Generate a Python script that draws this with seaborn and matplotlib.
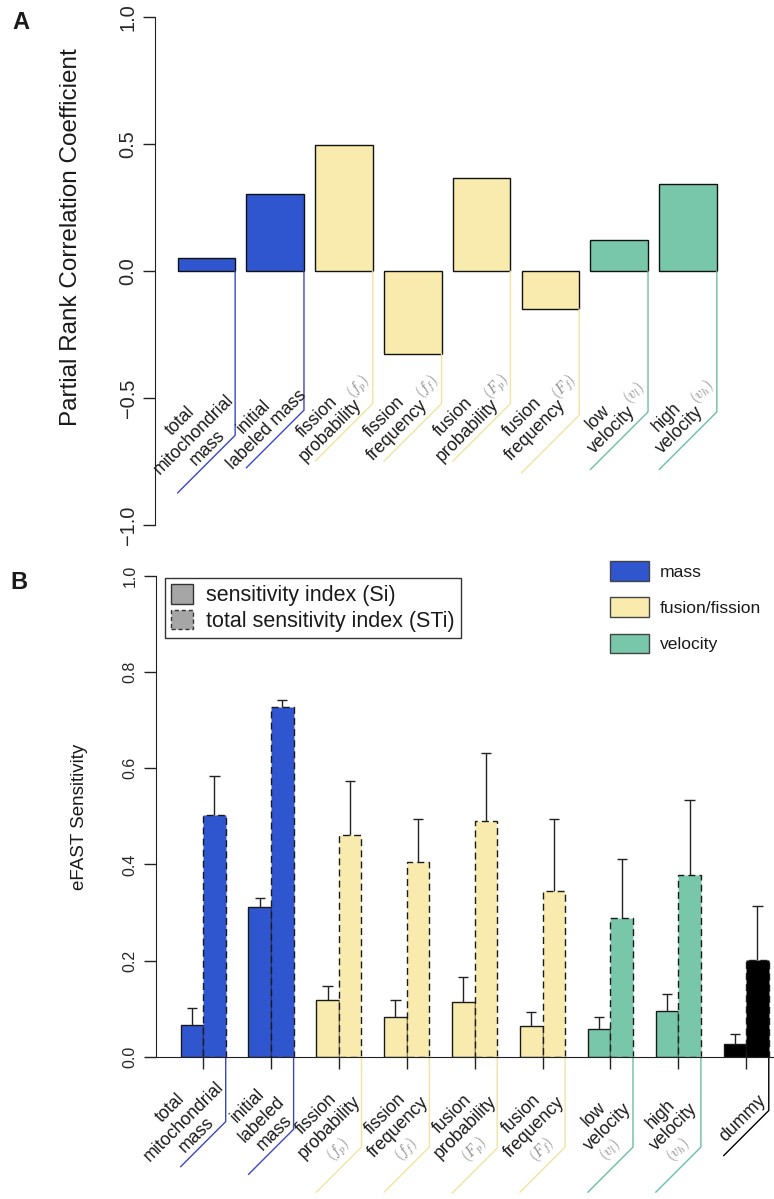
import matplotlib
matplotlib.use("Agg")
import matplotlib.pyplot as plt
import seaborn as sns
import pandas as pd
from matplotlib.patches import Patch

# ---- values ----
params = ["total mitochondrial mass", "initial labeled mass", "fission probability",
          "fission frequency", "fusion probability", "fusion frequency",
          "low velocity", "high velocity"]
groups = ["mass", "mass", "fusion/fission", "fusion/fission",
          "fusion/fission", "fusion/fission", "velocity", "velocity"]
prcc = [0.052, 0.303, 0.497, -0.325, 0.366, -0.149, 0.125, 0.345]

efast_params = params + ["dummy"]
efast_groups = groups + ["dummy"]
si = [0.065, 0.311, 0.117, 0.082, 0.114, 0.064, 0.058, 0.095, 0.026]
si_err = [0.037, 0.020, 0.031, 0.035, 0.052, 0.030, 0.025, 0.035, 0.021]
sti = [0.503, 0.728, 0.462, 0.406, 0.490, 0.345, 0.288, 0.379, 0.201]
sti_err = [0.080, 0.015, 0.112, 0.088, 0.141, 0.149, 0.123, 0.156, 0.112]

top_text = ["total\nmitochondrial\nmass", "initial\nlabeled mass", "fission\nprobability",
            "fission\nfrequency", "fusion\nprobability", "fusion\nfrequency",
            "low\nvelocity", "high\nvelocity"]
bottom_text = ["total\nmitochondrial\nmass", "initial\nlabeled\nmass", "fission\nprobability",
               "fission\nfrequency", "fusion\nprobability", "fusion\nfrequency",
               "low\nvelocity", "high\nvelocity", "dummy"]
symbols = [None, None, r"$(f_p)$", r"$(f_f)$", r"$(F_p)$", r"$(F_f)$",
           r"$(v_l)$", r"$(v_h)$", None]

# ---- layout of the slanted category labels ----
top_dx = [-0.18, -0.215, -0.29, -0.32, -0.31, -0.31, -0.205, -0.21]
top_y = [-0.641, -0.60, -0.60, -0.60, -0.60, -0.60, -0.60, -0.60]
top_sym_y = [None, None, -0.457, -0.457, -0.457, -0.457, -0.478, -0.474]
top_drop = [0.646, 0.547, 0.521, 0.521, 0.521, 0.567, 0.554, 0.554]
bot_dx = [-0.29, -0.14, -0.24, -0.22, -0.23, -0.22, -0.14, -0.16, -0.05]
bot_y = [-0.135, -0.130, -0.133, -0.133, -0.133, -0.133, -0.133, -0.133, -0.128]
bot_drop = [0.135, 0.151, 0.188, 0.188, 0.190, 0.188, 0.188, 0.188, 0.112]

fills = {"mass": "#2f55cf", "fusion/fission": "#f8ebad",
         "velocity": "#78c7aa", "dummy": "#000000"}
links = {"mass": "#3b46c6", "fusion/fission": "#f1e4a0",
         "velocity": "#6cbf9e", "dummy": "#000000"}

sns.set_style("white")
plt.rcParams["font.family"] = ["Liberation Sans", "DejaVu Sans"]
plt.rcParams["mathtext.fontset"] = "cm"
plt.rcParams["text.color"] = "#1a1a1a"

W, H = 774, 1199
fig = plt.figure(figsize=(W / 100, H / 100), dpi=100)


def place(left, top, right, bottom):
    return fig.add_axes([left / W, 1 - bottom / H, (right - left) / W, (bottom - top) / H])


def slope(ax):
    # data-y per data-x for a 45 degree line on screen
    x0, x1 = ax.get_xlim()
    y0, y1 = ax.get_ylim()
    sx = ax.bbox.width / (x1 - x0)
    sy = ax.bbox.height / (y1 - y0)
    return sx / sy


# ---------------- panel A ----------------
ax1 = place(155, 17.3, 774, 525.2)
df_top = pd.DataFrame({"param": params, "prcc": prcc, "group": groups})
bar_w = 0.838
sns.barplot(data=df_top, x="param", y="prcc", hue="group",
            palette={g: fills[g] for g in set(groups)}, dodge=False, saturation=1,
            width=bar_w, edgecolor="#111111", linewidth=1.0, legend=False, ax=ax1)
ax1.set_ylim(-1, 1)
ax1.set_xlim(-0.746, 8.25)
ax1.set_xlabel("")
ax1.set_ylabel("")
ax1.set_xticks([])
ax1.set_yticks([-1, -0.5, 0, 0.5, 1])
for s in ["top", "right", "bottom"]:
    ax1.spines[s].set_visible(False)
ax1.spines["left"].set_bounds(-1, 1)
ax1.spines["left"].set_color("#222222")
ax1.tick_params(axis="y", length=8.5, width=1, labelsize=14.4, pad=4,
                labelrotation=90, color="#222222", left=True)
for lbl in ax1.get_yticklabels():
    lbl.set_va("center")

k1 = slope(ax1)
for i, g in enumerate(groups):
    xr = i + bar_w / 2
    yc = -top_drop[i]
    ax1.plot([xr, xr, xr - bar_w], [min(prcc[i], 0), yc, yc - bar_w * k1],
             color=links[g], lw=1.0, clip_on=False, zorder=1)
    ax1.text(i + top_dx[i], top_y[i], top_text[i], rotation=45, ha="center",
             va="center", multialignment="center", fontsize=12.8, linespacing=1.15)
    if symbols[i]:
        ax1.text(i + 0.21, top_sym_y[i], symbols[i], rotation=45, ha="center",
                 va="center", fontsize=10.5, color="#8a8a8a")

# ---------------- panel B ----------------
ax2 = place(156, 576, 774, 1056.7)
df_bot = pd.DataFrame({"param": efast_params * 2, "value": si + sti,
                       "index": ["Si"] * len(si) + ["STi"] * len(sti)})
sns.barplot(data=df_bot, x="param", y="value", hue="index", hue_order=["Si", "STi"],
            width=0.666, dodge=True, legend=False, ax=ax2, saturation=1,
            edgecolor="#1a1a1a", linewidth=1.0)
ax2.set_ylim(0, 1)
ax2.set_xlim(-0.694, 8.41)
ax2.set_xlabel("")
ax2.set_ylabel("")

for p in ax2.patches:
    cx = p.get_x() + p.get_width() / 2
    cat = int(round(cx))
    total = cx > cat
    p.set_facecolor(fills[efast_groups[cat]])
    if total:
        p.set_linestyle((0, (5, 3)))
    val = sti[cat] if total else si[cat]
    err = sti_err[cat] if total else si_err[cat]
    ax2.vlines(cx, val, val + err, color="#222222", lw=1.0, zorder=4)
    ax2.hlines(val + err, cx - 0.075, cx + 0.075, color="#222222", lw=1.0, zorder=4)

for s in ["top", "right"]:
    ax2.spines[s].set_visible(False)
ax2.spines["left"].set_bounds(0, 1)
ax2.spines["left"].set_color("#222222")
ax2.spines["bottom"].set_color("#222222")
ax2.set_yticks([0, 0.2, 0.4, 0.6, 0.8, 1.0])
ax2.set_xticks(range(len(efast_params)))
ax2.set_xticklabels([""] * len(efast_params))
ax2.tick_params(axis="y", length=8.5, width=1, labelsize=11.5, pad=5,
                labelrotation=90, color="#222222", left=True)
ax2.tick_params(axis="x", length=8.5, width=1, color="#222222", bottom=True)
for lbl in ax2.get_yticklabels():
    lbl.set_va("center")

k2 = slope(ax2)
half = 0.333
for i, g in enumerate(efast_groups):
    xr = i + half
    yc = -bot_drop[i]
    ax2.plot([xr, xr, xr - 2 * half], [0, yc, yc - 2 * half * k2],
             color=links[g], lw=1.0, clip_on=False, zorder=1)
    ax2.text(i + bot_dx[i], bot_y[i], bottom_text[i], rotation=45, ha="center",
             va="center", multialignment="center", fontsize=12.8, linespacing=1.15)
    if symbols[i]:
        ax2.text(i, -0.194, symbols[i], rotation=45, ha="center", va="center",
                 fontsize=10.5, color="#8a8a8a")

h1 = [Patch(facecolor="#a6a6a6", edgecolor="#333333", lw=1.0,
            label="sensitivity index (Si)"),
      Patch(facecolor="#a6a6a6", edgecolor="#333333", lw=1.0, linestyle=(0, (3, 2)),
            label="total sensitivity index (STi)")]
leg1 = ax2.legend(handles=h1, loc="upper left", bbox_to_anchor=(165 / W, 1 - 578 / H),
                  bbox_transform=fig.transFigure, frameon=True, fancybox=False,
                  edgecolor="black", fontsize=15.5, handlelength=1.0, handleheight=1.0,
                  handletextpad=0.6, borderpad=0.3, labelspacing=0.15, borderaxespad=0)
leg1.get_frame().set_linewidth(1.0)
ax2.add_artist(leg1)

h2 = [Patch(facecolor=fills[g], edgecolor="#444444", lw=1.0, label=g)
      for g in ["mass", "fusion/fission", "velocity"]]
ax2.legend(handles=h2, loc="upper left", bbox_to_anchor=(610 / W, 1 - 561 / H),
           bbox_transform=fig.transFigure, frameon=False, fontsize=12.6,
           handlelength=2.2, handleheight=1.35, handletextpad=0.65,
           labelspacing=0.95, borderpad=0, borderaxespad=0)

fig.text(12 / W, 1 - 11 / H, "A", fontsize=17, fontweight="bold", va="top", ha="left")
fig.text(10 / W, 1 - 571 / H, "B", fontsize=17, fontweight="bold", va="top", ha="left")
fig.text(71 / W, 1 - 237 / H, "Partial Rank Correlation Coefficient", rotation=90,
         ha="center", va="center", fontsize=17.5)
fig.text(79 / W, 1 - 817 / H, "eFAST Sensitivity", rotation=90,
         ha="center", va="center", fontsize=13.5)

fig.savefig("out.png", dpi=100)
